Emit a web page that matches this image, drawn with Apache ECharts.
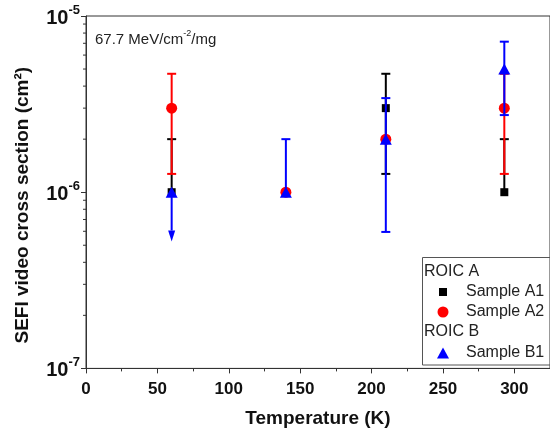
<!DOCTYPE html>
<html>
<head>
<meta charset="utf-8">
<script src="https://cdn.jsdelivr.net/npm/echarts@6/dist/echarts.min.js"></script>
<style>
  html, body { margin: 0; padding: 0; background: #fff; }
  #chart { width: 550px; height: 436px; }
</style>
</head>
<body>
<div id="chart"></div>
<script>
// SEFI video cross section versus temperature, 67.7 MeV/cm^-2/mg

// ROIC A, Sample A1
const tempA1  = [60, 210, 293];
const sigmaA1 = [1e-6, 3e-6, 1e-6];
const lowA1   = [1e-6, 1.27e-6, 1e-6];
const highA1  = [2e-6, 4.7e-6, 2e-6];

// ROIC A, Sample A2
const tempA2  = [60, 140, 210, 293];
const sigmaA2 = [3e-6, 1e-6, 2e-6, 3e-6];
const lowA2   = [1.27e-6, 1e-6, 2e-6, 1.27e-6];
const highA2  = [4.7e-6, 1e-6, 2e-6, 4.7e-6];

// ROIC B, Sample B1 (first point is an upper limit, drawn with a down arrow)
const tempB1  = [60, 140, 210, 293];
const sigmaB1 = [1e-6, 1e-6, 2e-6, 5e-6];
const lowB1   = [5.25e-7, 1e-6, 5.95e-7, 2.74e-6];
const highB1  = [1e-6, 2e-6, 3.42e-6, 7.15e-6];
const limitB1 = [1, 0, 0, 0];

// Axis ticks
const xTicks = [0, 50, 100, 150, 200, 250, 300];
const yMinorTicks = [2e-7, 3e-7, 4e-7, 5e-7, 6e-7, 7e-7, 8e-7, 9e-7,
                     2e-6, 3e-6, 4e-6, 5e-6, 6e-6, 7e-6, 8e-6, 9e-6];

const FONT = '"Liberation Sans", Arial, sans-serif';

function rows(t, s, lo, hi, lim) {
  return t.map((x, i) => [x, s[i], lo[i], hi[i], lim ? lim[i] : 0]);
}
function points(t, s) {
  return t.map((x, i) => [x, s[i]]);
}

// Vertical error bar with caps; an upper-limit point gets an arrow head instead
function errorBar(color) {
  return function (params, api) {
    const x = api.value(0), v = api.value(1), lo = api.value(2), hi = api.value(3), lim = api.value(4);
    const pLo = api.coord([x, lo]);
    const pHi = api.coord([x, hi]);
    const cap = 4.5, head = 11, half = 3.5;
    const style = { stroke: color, lineWidth: 2 };
    const yBottom = (lim && lo < v) ? pLo[1] - head : pLo[1];
    const kids = [{
      type: 'line',
      shape: { x1: pLo[0], y1: yBottom, x2: pHi[0], y2: pHi[1] },
      style: style
    }];
    if (hi > v) {
      kids.push({ type: 'line', shape: { x1: pHi[0] - cap, y1: pHi[1], x2: pHi[0] + cap, y2: pHi[1] }, style: style });
    }
    if (lo < v) {
      if (lim) {
        kids.push({
          type: 'polygon',
          shape: { points: [[pLo[0] - half, pLo[1] - head], [pLo[0] + half, pLo[1] - head], [pLo[0], pLo[1]]] },
          style: { fill: color }
        });
      } else {
        kids.push({ type: 'line', shape: { x1: pLo[0] - cap, y1: pLo[1], x2: pLo[0] + cap, y2: pLo[1] }, style: style });
      }
    }
    return { type: 'group', children: kids };
  };
}

// Short minor ticks on the left side of the log axis
function minorTick(params, api) {
  const p = api.coord([api.value(0), api.value(1)]);
  return {
    type: 'line',
    shape: { x1: p[0] - 3, y1: p[1], x2: p[0], y2: p[1] },
    style: { stroke: '#333', lineWidth: 1 }
  };
}

const chart = echarts.init(document.getElementById('chart'), null, { renderer: 'canvas' });

const legendText = { fontFamily: FONT, fontSize: 16, color: '#222' };

chart.setOption({
  animation: false,
  backgroundColor: '#fff',
  grid: {
    left: 86, top: 16, width: 470, height: 352.4,
    show: true, borderColor: '#333', borderWidth: 1, backgroundColor: 'transparent'
  },
  xAxis: {
    type: 'value', min: 0, max: 325, interval: 50,
    name: 'Temperature (K)', nameLocation: 'middle', nameGap: 41,
    nameTextStyle: { fontFamily: FONT, fontSize: 19, fontWeight: 'bold', color: '#111' },
    axisLine: { lineStyle: { color: '#333', width: 1 } },
    axisTick: { length: 5, lineStyle: { color: '#333' } },
    minorTick: { show: true, splitNumber: 2, length: 3, lineStyle: { color: '#333' } },
    splitLine: { show: false },
    axisLabel: {
      margin: 12, fontFamily: FONT, fontSize: 17, fontWeight: 'bold', color: '#111',
      showMaxLabel: false,
      formatter: v => (xTicks.indexOf(v) >= 0 ? String(v) : '')
    }
  },
  yAxis: {
    type: 'log', logBase: 10, min: 1e-7, max: 1e-5,
    name: 'SEFI video cross section (cm²)', nameLocation: 'middle', nameGap: 54,
    nameTextStyle: { fontFamily: FONT, fontSize: 19, fontWeight: 'bold', color: '#111', padding: [0, 26, 0, 0] },
    axisLine: { show: true, lineStyle: { color: '#333', width: 1 } },
    axisTick: { length: 5, lineStyle: { color: '#333' } },
    splitLine: { show: false },
    axisLabel: {
      margin: 6,
      formatter: v => '{b|10}{s|' + Math.round(Math.log10(v)) + '}',
      rich: {
        b: { fontFamily: FONT, fontSize: 20, fontWeight: 'bold', color: '#111', verticalAlign: 'bottom', lineHeight: 25 },
        s: { fontFamily: FONT, fontSize: 13, fontWeight: 'bold', color: '#111', verticalAlign: 'top', lineHeight: 25 }
      }
    }
  },
  legend: [
    { data: ['Sample A1'], left: 439, top: 284, padding: 0, itemWidth: 8, itemHeight: 8, selectedMode: false,
      textStyle: Object.assign({ padding: [0, 0, 0, 14] }, legendText) },
    { data: ['Sample A2'], left: 437.5, top: 304, padding: 0, itemWidth: 11, itemHeight: 11, selectedMode: false,
      textStyle: Object.assign({ padding: [0, 0, 0, 12.5] }, legendText) },
    { data: ['Sample B1'], left: 437, top: 345, padding: 0, itemWidth: 12, itemHeight: 11, selectedMode: false,
      textStyle: Object.assign({ padding: [0, 0, 0, 12] }, legendText) }
  ],
  graphic: [
    {
      type: 'rect', z: 5,
      shape: { x: 422.5, y: 257.5, width: 140, height: 107.5 },
      style: { fill: 'rgba(255,255,255,0)', stroke: '#555', lineWidth: 1 }
    },
    {
      type: 'text', z: 6, x: 424, y: 272,
      style: { text: 'ROIC A', font: '16px ' + FONT, fill: '#222', verticalAlign: 'middle' }
    },
    {
      type: 'text', z: 6, x: 424, y: 332,
      style: { text: 'ROIC B', font: '16px ' + FONT, fill: '#222', verticalAlign: 'middle' }
    },
    {
      type: 'text', z: 6, x: 95, y: 29,
      style: {
        text: '{a|67.7 MeV/cm}{s|-2}{a|/mg}',
        rich: {
          a: { fontFamily: FONT, fontSize: 15, fill: '#222', verticalAlign: 'bottom', lineHeight: 18 },
          s: { fontFamily: FONT, fontSize: 9, fill: '#222', verticalAlign: 'top', lineHeight: 18 }
        }
      }
    }
  ],
  series: [
    {
      name: 'minor ticks', type: 'custom', renderItem: minorTick, clip: false, silent: true,
      encode: { x: 0, y: 1 }, data: yMinorTicks.map(v => [0, v]), z: 1
    },
    {
      name: 'A1 bars', type: 'custom', renderItem: errorBar('#000'),
      encode: { x: 0, y: [1, 2, 3] }, data: rows(tempA1, sigmaA1, lowA1, highA1), z: 2
    },
    {
      name: 'Sample A1', type: 'scatter', symbol: 'rect', symbolSize: 8,
      itemStyle: { color: '#000', opacity: 1 }, data: points(tempA1, sigmaA1), z: 3
    },
    {
      name: 'A2 bars', type: 'custom', renderItem: errorBar('#ff0000'),
      encode: { x: 0, y: [1, 2, 3] }, data: rows(tempA2, sigmaA2, lowA2, highA2), z: 4
    },
    {
      name: 'Sample A2', type: 'scatter', symbol: 'circle', symbolSize: 11,
      itemStyle: { color: '#ff0000', opacity: 1 }, data: points(tempA2, sigmaA2), z: 5
    },
    {
      name: 'B1 bars', type: 'custom', renderItem: errorBar('#0000ff'),
      encode: { x: 0, y: [1, 2, 3] }, data: rows(tempB1, sigmaB1, lowB1, highB1, limitB1), z: 6
    },
    {
      name: 'Sample B1', type: 'scatter', symbol: 'triangle', symbolSize: [12, 11],
      itemStyle: { color: '#0000ff', opacity: 1 }, data: points(tempB1, sigmaB1), z: 7
    }
  ]
});
</script>
</body>
</html>
